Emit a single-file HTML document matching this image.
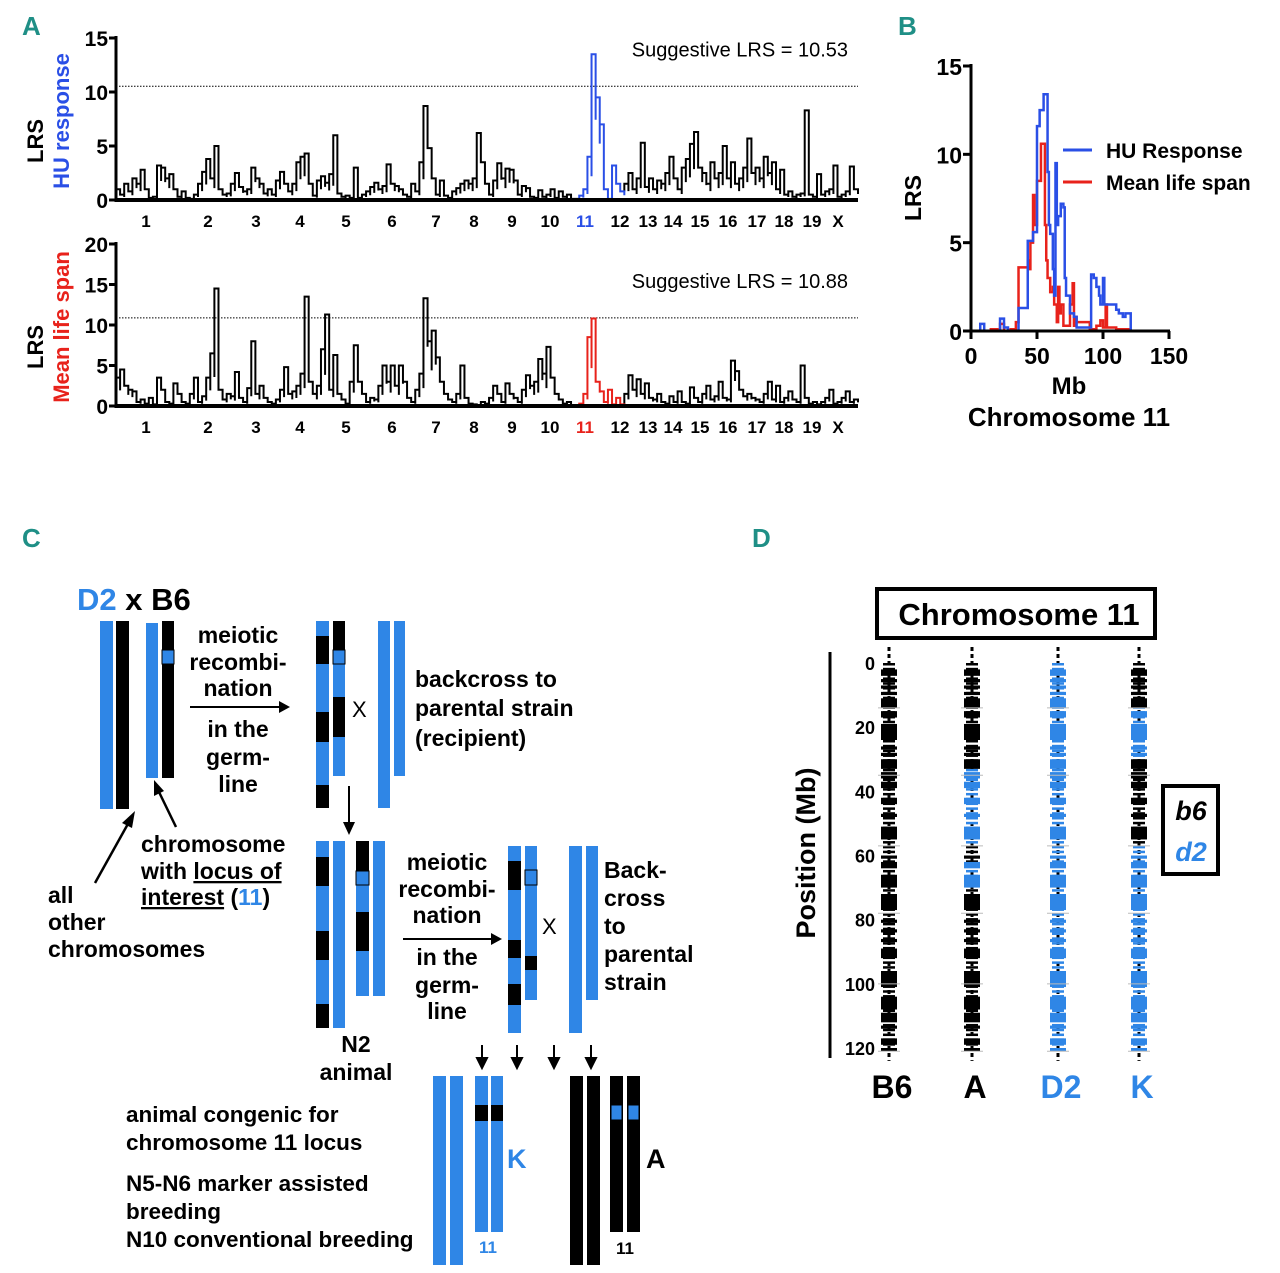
<!DOCTYPE html>
<html><head><meta charset="utf-8"><style>
html,body{margin:0;padding:0;background:#fff;}
svg{display:block;font-family:"Liberation Sans",sans-serif;}
.b{font-weight:bold;}
</style></head><body>
<svg id="fig" width="1280" height="1273" viewBox="0 0 1280 1273" xmlns="http://www.w3.org/2000/svg">
<g font-weight="bold" fill="#1f8f86" font-size="26" style="font-family:'Liberation Sans Narrow','Liberation Sans',sans-serif">
<text x="22" y="35">A</text>
<text x="898" y="35">B</text>
<text x="22" y="547">C</text>
<text x="752" y="547">D</text>
</g>
<g id="pa"></g>
<g id="pb"></g>
<g id="pc">
<text x="77" y="610" font-size="31" class="b"><tspan fill="#2f86e6">D2</tspan> x B6</text>
<rect x="100" y="621" width="13" height="188" fill="#2f86e6"/>
<rect x="116" y="621" width="13" height="188" fill="#000"/>
<rect x="146" y="623" width="12" height="155" fill="#2f86e6"/>
<rect x="162" y="621" width="12" height="157" fill="#000"/>
<rect x="162" y="650" width="12" height="14" fill="#2f86e6" stroke="#000" stroke-width="1"/>
<text x="238" y="643" text-anchor="middle" font-size="23" class="b"><tspan x="238">meiotic</tspan><tspan x="238" dy="27">recombi-</tspan><tspan x="238" dy="26">nation</tspan></text>
<line x1="190" y1="707" x2="280" y2="707" stroke="#000" stroke-width="2"/><polygon points="290,707 279,701 279,713" fill="#000"/>
<text x="238" y="737" text-anchor="middle" font-size="23" class="b"><tspan x="238">in the</tspan><tspan x="238" dy="28">germ-</tspan><tspan x="238" dy="27">line</tspan></text>
<line x1="95" y1="883" x2="129" y2="822" stroke="#000" stroke-width="2.5"/><polygon points="135,811 122,823 132,828" fill="#000"/>
<line x1="176" y1="827" x2="159" y2="792" stroke="#000" stroke-width="2.5"/><polygon points="154,780 154,796 164,791" fill="#000"/>
<text x="48" y="903" font-size="23" class="b"><tspan x="48">all</tspan><tspan x="48" dy="27">other</tspan><tspan x="48" dy="27">chromosomes</tspan></text>
<text x="141" y="852" font-size="23" class="b"><tspan x="141">chromosome</tspan><tspan x="141" dy="27">with <tspan text-decoration="underline">locus of</tspan></tspan><tspan x="141" dy="26"><tspan text-decoration="underline">interest</tspan> (<tspan fill="#2f86e6">11</tspan>)</tspan></text>
<rect x="316" y="621" width="13" height="187" fill="#2f86e6"/>
<rect x="316" y="636" width="13" height="28" fill="#000"/><rect x="316" y="712" width="13" height="30" fill="#000"/><rect x="316" y="785" width="13" height="23" fill="#000"/>
<rect x="333" y="621" width="12" height="155" fill="#2f86e6"/>
<rect x="333" y="621" width="12" height="30" fill="#000"/><rect x="333" y="697" width="12" height="40" fill="#000"/>
<rect x="333" y="650" width="12" height="14" fill="#2f86e6" stroke="#000" stroke-width="1"/>
<text x="352" y="717" font-size="22">X</text>
<rect x="378" y="621" width="12" height="187" fill="#2f86e6"/><rect x="394" y="621" width="11" height="155" fill="#2f86e6"/>
<text x="415" y="687" font-size="23" class="b"><tspan x="415">backcross to</tspan><tspan x="415" dy="29">parental strain</tspan><tspan x="415" dy="30">(recipient)</tspan></text>
<line x1="349" y1="786" x2="349" y2="824" stroke="#000" stroke-width="2"/><polygon points="349,835 343,822 355,822" fill="#000"/>
<rect x="316" y="841" width="13" height="187" fill="#2f86e6"/>
<rect x="316" y="857" width="13" height="29" fill="#000"/><rect x="316" y="931" width="13" height="29" fill="#000"/><rect x="316" y="1004" width="13" height="24" fill="#000"/>
<rect x="333" y="841" width="12" height="187" fill="#2f86e6"/>
<rect x="356" y="841" width="13" height="155" fill="#2f86e6"/>
<rect x="356" y="841" width="13" height="30" fill="#000"/><rect x="356" y="912" width="13" height="39" fill="#000"/>
<rect x="356" y="871" width="13" height="14" fill="#2f86e6" stroke="#000" stroke-width="1"/>
<rect x="373" y="841" width="12" height="155" fill="#2f86e6"/>
<text x="356" y="1052" text-anchor="middle" font-size="23" class="b"><tspan x="356">N2</tspan><tspan x="356" dy="28">animal</tspan></text>
<text x="447" y="870" text-anchor="middle" font-size="23" class="b"><tspan x="447">meiotic</tspan><tspan x="447" dy="27">recombi-</tspan><tspan x="447" dy="26">nation</tspan></text>
<line x1="403" y1="939" x2="492" y2="939" stroke="#000" stroke-width="2"/><polygon points="502,939 491,933 491,945" fill="#000"/>
<text x="447" y="965" text-anchor="middle" font-size="23" class="b"><tspan x="447">in the</tspan><tspan x="447" dy="28">germ-</tspan><tspan x="447" dy="26">line</tspan></text>
<rect x="508" y="846" width="13" height="187" fill="#2f86e6"/>
<rect x="508" y="861" width="13" height="29" fill="#000"/><rect x="508" y="940" width="13" height="18" fill="#000"/><rect x="508" y="984" width="13" height="21" fill="#000"/>
<rect x="525" y="846" width="12" height="154" fill="#2f86e6"/>
<rect x="525" y="870" width="12" height="15" fill="#2f86e6" stroke="#000" stroke-width="1"/>
<rect x="525" y="956" width="12" height="14" fill="#000"/>
<text x="542" y="934" font-size="22">X</text>
<rect x="569" y="846" width="13" height="187" fill="#2f86e6"/><rect x="586" y="846" width="12" height="154" fill="#2f86e6"/>
<text x="604" y="878" font-size="23" class="b"><tspan x="604">Back-</tspan><tspan x="604" dy="28">cross</tspan><tspan x="604" dy="28">to</tspan><tspan x="604" dy="28">parental</tspan><tspan x="604" dy="28">strain</tspan></text>
<g fill="#000" stroke="#000" stroke-width="2">
<line x1="482" y1="1045" x2="482" y2="1060"/><polygon points="482,1068 477,1058 487,1058"/>
<line x1="517" y1="1045" x2="517" y2="1060"/><polygon points="517,1068 512,1058 522,1058"/>
<line x1="554" y1="1045" x2="554" y2="1060"/><polygon points="554,1068 549,1058 559,1058"/>
<line x1="591" y1="1045" x2="591" y2="1060"/><polygon points="591,1068 586,1058 596,1058"/>
</g>
<text x="126" y="1122" font-size="22.5" class="b"><tspan x="126">animal congenic for</tspan><tspan x="126" dy="28">chromosome 11 locus</tspan></text>
<text x="126" y="1191" font-size="22.5" class="b"><tspan x="126">N5-N6 marker assisted</tspan><tspan x="126" dy="28">breeding</tspan><tspan x="126" dy="28">N10 conventional breeding</tspan></text>
<rect x="433" y="1076" width="13" height="189" fill="#2f86e6"/><rect x="450" y="1076" width="13" height="189" fill="#2f86e6"/>
<rect x="475" y="1076" width="13" height="156" fill="#2f86e6"/><rect x="491" y="1076" width="12" height="156" fill="#2f86e6"/>
<rect x="475" y="1105" width="13" height="16" fill="#000"/><rect x="491" y="1105" width="12" height="16" fill="#000"/>
<text x="507" y="1168" font-size="27" class="b" fill="#2f86e6">K</text>
<text x="488" y="1253" text-anchor="middle" font-size="17" class="b" fill="#2f86e6">11</text>
<rect x="570" y="1076" width="13" height="189" fill="#000"/><rect x="587" y="1076" width="13" height="189" fill="#000"/>
<rect x="610" y="1076" width="13" height="156" fill="#000"/><rect x="627" y="1076" width="13" height="156" fill="#000"/>
<rect x="611" y="1105" width="11" height="15" fill="#2f86e6" stroke="#000"/><rect x="628" y="1105" width="11" height="15" fill="#2f86e6" stroke="#000"/>
<text x="646" y="1168" font-size="27" class="b">A</text>
<text x="625" y="1254" text-anchor="middle" font-size="17" class="b">11</text>
</g>
<g id="pd">
<rect x="877" y="589" width="278" height="49" fill="none" stroke="#000" stroke-width="4"/>
<text x="1019" y="625" text-anchor="middle" font-size="31" class="b">Chromosome 11</text>
<rect x="1163" y="786" width="55" height="88" fill="none" stroke="#000" stroke-width="4"/>
<text x="1191" y="820" text-anchor="middle" font-size="27" class="b" font-style="italic">b6</text>
<text x="1191" y="861" text-anchor="middle" font-size="27" class="b" font-style="italic" fill="#2f86e6">d2</text>
<line x1="830" y1="652" x2="830" y2="1058" stroke="#000" stroke-width="3"/>
<text transform="translate(815,853) rotate(-90)" text-anchor="middle" font-size="27" class="b">Position (Mb)</text>
</g>
</svg>
<script>
// ===== Panel A data =====
const chrLabels = ["1","2","3","4","5","6","7","8","9","10","11","12","13","14","15","16","17","18","19","X"];
const chrLabelPos = [146,208,256,300,346,392,436,474,512,550,585,620,648,673,700,728,757,784,812,838];
const chr11Start = 113, chr11End = 124;
const huLRS = [0.3,1,0.5,1.5,0.8,2,1.5,2.8,1,0.2,0.3,3.2,3,2,2.4,1,0.3,0.8,0.2,0.1,
0.5,1.5,2.6,3.8,2,5,1,0.5,0.6,1.5,2.5,1.2,0.8,1,3,2,1.5,0.6,1,0.5,
1.8,2.6,1.5,0.8,1.5,3.5,4,4.3,1.5,0.4,1.8,2.2,1.6,2.4,6,0.6,0.3,0.4,0.2,3,
0.2,0.5,0.8,1.2,1.6,1,1.3,3.3,1.5,1.3,1,0.5,0.3,1.5,0.8,3.5,8.7,4.8,2,0.5,
1.8,0.4,0.2,0.8,1.1,1.5,1.8,1.5,2,6.2,3.5,1.5,0.5,1.8,3.4,2,2.9,2.8,1.8,0.5,
1.3,1.1,0.3,0.2,0.9,0.3,0.5,1,0.2,0.8,0.3,0.5,0.1,
0.1,0.4,1,4,13.5,9.5,7,1,0.1,3.2,1.5,0.8,
1.5,2.5,1,2,5.3,1.2,2,1,1.8,1.5,2.5,4,2,1,3,3.8,5.2,6.3,3,2.5,
1.5,3.5,2,2.5,5,2,3.5,1.5,2,3,5.7,2.5,3,2,4,2.5,3.5,1,2.8,0.5,
0.8,0.3,0.5,0.6,8.3,0.5,0.3,2.4,0.5,0.8,1,3.2,0.3,0.5,0.8,3.1,1];
const lsLRS = [0.5,3.5,4.5,2.5,2,1.8,0.5,0.8,0.3,1,0.2,3.5,2,0.5,0.3,2.8,1.5,0.5,0.3,1.5,
3.5,0.5,1.2,3.5,6.5,14.5,2,0.8,1.5,1.2,4.2,1,0.5,2.2,8,1.5,2.5,1,0.5,0.3,
0.8,2,4.8,1.5,1.8,2.5,4,13.5,3,1.5,2.5,7,11.3,2,6.3,1.5,0.8,0.3,3,7.5,
3,1.5,0.5,1,0.8,2.5,5,3,5,2.5,5,3,1,0.5,2,4,13.3,8,9.3,6,
3,1.5,0.8,0.5,1.5,5,1,0.3,0.2,0.1,0.5,0.3,1,2.5,1.5,0.5,2.8,1.5,1,0.5,
2,3.8,2.5,3,5.8,4,7.3,3.5,1.5,0.8,0.3,0.5,0.1,
0.1,0.3,1.5,8.5,10.8,3,1.8,0.5,2,0.2,1,0.2,
1.5,3.8,2,3.3,1.5,2.8,1,0.8,1.5,0.5,0.3,1.2,0.5,1.8,0.5,0.3,2.3,1,0.5,1.5,
2.5,0.8,1.2,3,1,0.8,5.6,4.3,2,1.2,1.5,1,0.8,0.5,1.5,3,0.8,2.5,0.5,1,
1.8,0.8,0.5,5,1,0.3,0.5,0.2,0.5,1,2,0.3,0.5,1,1.8,0.5,0.8];

// ===== Panel B data =====
const huMb  = [5,7,10,20,22,25,28,35,36,42,43,46,47,50,52,55,58,59,60,62,63,64,65,66,68,70,71,72,75,78,80,90,91,93,95,97,98,100,101,105,110,112,115,117,120,121];
const huVal = [0,0.4,0,0,0.7,0.2,0,0,1.3,1.3,5.1,5.1,5.6,11.6,12.5,13.4,9,6,5.5,3.5,2,9.5,6,6.5,7.2,7,3,2,1,0.8,0.2,0.2,3.2,3,2.5,2,1.5,3,1.5,1.5,1.2,1,0.8,1,1,0];
const lsMb  = [5,15,20,22,25,30,34,36,42,43,44,45,47,48,50,53,55,56,57,58,60,62,63,65,66,67,68,70,72,75,77,78,79,80,90,95,98,100,102,103,110,120];
const lsVal = [0,0.1,0,0.4,0,0.1,0.5,3.6,3.6,4,3.5,5,7.7,6,8.5,10.6,10.6,6,4,3,2.2,2.5,1.5,0.5,2.5,1,1.5,0.3,0.3,1.5,2.7,0.3,0.8,0.5,0.1,0.3,0.6,0.2,1.5,0.2,0.1,0];
const bXTicks = [0,50,100,150];
const bYTicks = [0,5,10,15];

// ===== Panel D data =====
const strains = ["B6","A","D2","K"];
const strainColors = ["#000","#000","#2f86e6","#2f86e6"];
const dYTicks = [0,20,40,60,80,100,120];
const blockStart = [2,5,7,9,11,15,19,26,28,30,34,37,42,47,51,60,62,66,72,80,83,86,89,96,104,109,113,117,120];
const blockEnd   = [4,6,8,10,14,17,24,27,29,33,36,39,44,48,55,61,64,70,77,81,84,87,92,101,108,112,114,119,121];
const aD2 = [[33,56],[62,67]];
const kD2 = [[12,30],[56,125]];

const NS="http://www.w3.org/2000/svg";
function mk(tag, attrs, parent){const e=document.createElementNS(NS,tag);for(const k in attrs)e.setAttribute(k,attrs[k]);parent.appendChild(e);return e;}

// ---- Panel A ----
const pa=document.getElementById('pa');
function drawA(series, y0, yTop, maxV, ticks, highlight, thrV, thrText, title, titleColor, gname){
  const g=mk('g',{},pa);
  
  
  const x0=116, x1=858;
  const sx=i=>x0+i*(x1-x0)/(series.length-1);
  const sy=v=>y0-(v/maxV)*(y0-yTop);
  const th=mk('line',{x1:x0,x2:x1,y1:sy(thrV),y2:sy(thrV),stroke:'#000','stroke-width':1,'stroke-dasharray':'1.5 1.5'},g);
  
  
  const tt=mk('text',{x:848,y:sy(thrV)-30,'text-anchor':'end','font-size':20},g);tt.textContent=thrText;
  
  
  let p1='',p2='';
  const seg=(i,v,first)=>first?('M'+sx(i)+','+sy(v)):('V'+sy(v)+'H'+sx(i)+'V'+sy(v*0.55)+'V'+sy(v));
  series.forEach((v,i)=>{
    if(i<=chr11Start) p1+=seg(i,v,i===0);
    if(i>=chr11End) p1+=seg(i,v,i===chr11End);
    if(i>=chr11Start&&i<=chr11End) p2+=seg(i,v,i===chr11Start);
  });
  const l1=mk('path',{d:p1,fill:'none',stroke:'#000','stroke-width':2},g);
  
  
  const l2=mk('path',{d:p2,fill:'none',stroke:highlight,'stroke-width':2},g);
  
  
  mk('line',{x1:x0,x2:x0,y1:yTop-2,y2:y0+2,stroke:'#000','stroke-width':3},g);
  mk('line',{x1:x0,x2:x1,y1:y0,y2:y0,stroke:'#000','stroke-width':4},g);
  ticks.forEach(t=>{
    mk('line',{x1:x0-7,x2:x0,y1:sy(t),y2:sy(t),stroke:'#000','stroke-width':3},g);
    const tx=mk('text',{x:x0-8,y:sy(t)+8,'text-anchor':'end','font-size':21,'font-weight':'bold'},g);tx.textContent=t;
    
    
  });
  chrLabels.forEach((c,i)=>{
    const tx=mk('text',{x:chrLabelPos[i],y:y0+27,'text-anchor':'middle','font-size':17,'font-weight':'bold',fill:c==='11'?highlight:'#000'},g);tx.textContent=c;
    
    
  });
  const yt=mk('text',{transform:`translate(43,${(y0+yTop)/2+22}) rotate(-90)`,'text-anchor':'middle','font-size':22,'font-weight':'bold'},g);yt.textContent='LRS';
  
  
  const ys=mk('text',{transform:`translate(69,${(y0+yTop)/2+2}) rotate(-90)`,'text-anchor':'middle','font-size':22,'font-weight':'bold',fill:titleColor},g);ys.textContent=title;
  
  
}
drawA(huLRS,200,38,15,[0,5,10,15],'#2a4fe6',10.53,'Suggestive LRS = 10.53','HU response','#2a4fe6','hu-response-plot');
drawA(lsLRS,406,244,20,[0,5,10,15,20],'#e8221b',10.88,'Suggestive LRS = 10.88','Mean life span','#e8221b','life-span-plot');

// ---- Panel B ----
const pb=document.getElementById('pb');
const bx=v=>971+v*(1169-971)/150, by=v=>331-v*(331-66)/15;
function stepPath(xs,ys){let d='';xs.forEach((x,i)=>{d+=(i?'H'+bx(x)+'V'+by(ys[i]):'M'+bx(x)+','+by(ys[i]));});return d;}
const rl=mk('path',{d:stepPath(lsMb,lsVal),fill:'none',stroke:'#e8221b','stroke-width':2.5},pb);


const bl=mk('path',{d:stepPath(huMb,huVal),fill:'none',stroke:'#2a4fe6','stroke-width':2.5},pb);


mk('line',{x1:971,x2:971,y1:64,y2:333,stroke:'#000','stroke-width':3},pb);
mk('line',{x1:969,x2:1170,y1:331,y2:331,stroke:'#000','stroke-width':3},pb);
bYTicks.forEach(t=>{mk('line',{x1:963,x2:971,y1:by(t),y2:by(t),stroke:'#000','stroke-width':3},pb);
  const tx=mk('text',{x:962,y:by(t)+9,'text-anchor':'end','font-size':23,'font-weight':'bold'},pb);tx.textContent=t;
  
  });
bXTicks.forEach(t=>{mk('line',{x1:bx(t),x2:bx(t),y1:331,y2:339,stroke:'#000','stroke-width':3},pb);
  const tx=mk('text',{x:bx(t),y:364,'text-anchor':'middle','font-size':23,'font-weight':'bold'},pb);tx.textContent=t;
  
  });
let t1=mk('text',{x:1069,y:394,'text-anchor':'middle','font-size':24,'font-weight':'bold'},pb);t1.textContent='Mb';


let t2=mk('text',{x:1069,y:426,'text-anchor':'middle','font-size':26,'font-weight':'bold'},pb);t2.textContent='Chromosome 11';


let t3=mk('text',{transform:'translate(921,198) rotate(-90)','text-anchor':'middle','font-size':23,'font-weight':'bold'},pb);t3.textContent='LRS';


[['HU Response','#2a4fe6',150],['Mean life span','#e8221b',182]].forEach(([n,c,y])=>{
  const lg=mk('g',{},pb);
  
  
  mk('line',{x1:1063,x2:1092,y1:y,y2:y,stroke:c,'stroke-width':3},lg);
  const tx=mk('text',{x:1106,y:y+8,'font-size':21,'font-weight':'bold'},lg);tx.textContent=n;
});

// ---- Panel D ----
const pd=document.getElementById('pd');
const dy=v=>663+v*(1048-663)/120;
const colX=[889,972,1058,1139];
dYTicks.forEach(t=>{const tx=mk('text',{x:875,y:dy(t)+7,'text-anchor':'end','font-size':18,'font-weight':'bold'},pd);tx.textContent=t;
  
  });
function isD2(s,mb){const r=s===2?[[-10,130]]:s===1?aD2:s===3?kD2:[];return r.some(([a,b])=>mb>=a&&mb<b);}
strains.forEach((s,si)=>{
  const g=mk('g',{},pd);
  
  
  const cx=colX[si];
  mk('line',{x1:cx,x2:cx,y1:dy(-5),y2:dy(124),stroke:'#000','stroke-width':3,'stroke-dasharray':'4 3'},g);
  for(let mb=0;mb<121;mb+=1.5){
    const c=isD2(si,mb)?'#2f86e6':'#000';
    mk('rect',{x:cx-6,y:dy(mb),width:12,height:2.5,fill:c},g);
  }
  blockStart.forEach((b,i)=>{
    const c=isD2(si,b)?'#2f86e6':'#000';
    mk('rect',{x:cx-8,y:dy(b),width:16,height:dy(blockEnd[i])-dy(b),fill:c},g);
  });
  [14,35,57,78,100,121].forEach(m=>mk('line',{x1:cx-11,x2:cx+11,y1:dy(m),y2:dy(m),stroke:'#bbb','stroke-width':1},g));
  const tx=mk('text',{x:cx+3,y:1098,'text-anchor':'middle','font-size':32,'font-weight':'bold',fill:strainColors[si]},g);tx.textContent=s;
  
  
});
</script>
</body></html>
